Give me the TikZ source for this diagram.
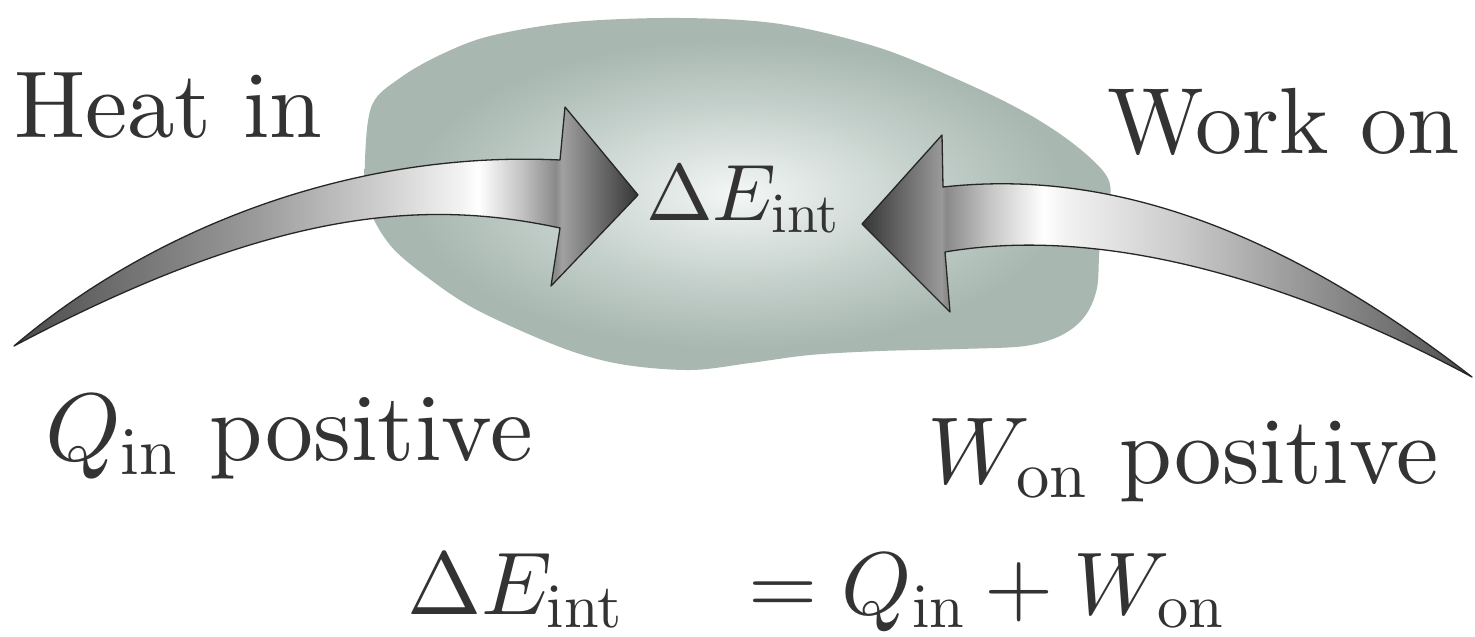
\RequirePackage{fix-cm}
\documentclass[tikz,border=0pt]{standalone}
\DeclareFontShape{TU}{lmr}{m}{n}{<-> \UnicodeFontFile{lmroman10-regular}{\UnicodeFontTeXLigatures}}{}
\DeclareFontShape{OT1}{cmr}{m}{n}{<->cmr10}{}
\DeclareFontShape{OML}{cmm}{m}{it}{<->cmmi10}{}
\definecolor{txt}{HTML}{333333}
\definecolor{bA}{HTML}{F4F7F6}
\definecolor{bB}{HTML}{E0E7E4}
\definecolor{bC}{HTML}{C3CFCA}
\definecolor{bD}{HTML}{A8B7B0}
\pgfdeclareradialshading{blobshade}{\pgfpoint{0bp}{0bp}}{color(0bp)=(bA); color(5bp)=(bB); color(13bp)=(bC); color(22bp)=(bD); color(50bp)=(bD)}
\pgfdeclarehorizontalshading{larrow}{100bp}{rgb(0bp)=(0.29,0.29,0.29); rgb(25bp)=(0.29,0.29,0.29); rgb(33.6bp)=(0.44,0.44,0.44); rgb(44bp)=(0.60,0.60,0.60); rgb(54.4bp)=(0.81,0.81,0.81); rgb(60.8bp)=(0.95,0.95,0.95); rgb(62.2bp)=(1,1,1); rgb(65.6bp)=(0.77,0.77,0.77); rgb(68.4bp)=(0.54,0.54,0.54); rgb(68.9bp)=(0.63,0.63,0.63); rgb(75bp)=(0.21,0.21,0.21); rgb(100bp)=(0.21,0.21,0.21)}
\pgfdeclarehorizontalshading{rarrow}{100bp}{rgb(0bp)=(0.21,0.21,0.21); rgb(25bp)=(0.21,0.21,0.21); rgb(31.5bp)=(0.60,0.60,0.60); rgb(31.9bp)=(0.54,0.54,0.54); rgb(35.4bp)=(0.77,0.77,0.77); rgb(39.9bp)=(1,1,1); rgb(41.6bp)=(0.95,0.95,0.95); rgb(50.9bp)=(0.80,0.80,0.80); rgb(60.7bp)=(0.60,0.60,0.60); rgb(68.9bp)=(0.44,0.44,0.44); rgb(75bp)=(0.29,0.29,0.29); rgb(100bp)=(0.29,0.29,0.29)}
\tikzset{
  lbl/.style={inner sep=0pt, outer sep=0pt, text=txt, anchor=base west},
  arrowbody/.style={draw=black!85, line width=1.3pt, line join=round},
  fs/.style={font=\fontsize{#1}{#1}\selectfont}
}
\begin{document}
\begin{tikzpicture}[x=1pt,y=-1pt]
\fill[white] (0,0) rectangle (1475,637);
\useasboundingbox (0,0) rectangle (1475,637);
% blob
\shade[shading=blobshade] plot[smooth cycle, tension=0.55] coordinates {
 (365,160) (372,105) (400,78) (440,55) (490,36) (574,22) (680,18) (780,24)
 (880,48) (970,85) (1030,115) (1075,145) (1106,175) (1110,200) (1100,245)
 (1097,288) (1085,316) (1062,335) (1025,346) (960,349) (880,351) (810,355)
 (750,363) (690,370) (620,364) (560,347) (477,310) (427,277) (390,245)
 (368,205)};
% named points of the arrows
\coordinate (ltail) at (14,346);
\coordinate (ltip) at (638,195);
\coordinate (rtail) at (1472,377);
\coordinate (rtip) at (862,224);
% left arrow (heat in)
\shadedraw[arrowbody, shading=larrow] (ltail) .. controls (150,230) and (350,150) .. (560,160)
  -- (565,107) -- (ltip) -- (551,286) -- (560,228)
  .. controls (430,200) and (280,205) .. (ltail) -- cycle;
% right arrow (work on)
\shadedraw[arrowbody, shading=rarrow] (rtail) .. controls (1250,205) and (1080,172) .. (943,187)
  -- (942,135) -- (rtip) -- (950,312) -- (945,252)
  .. controls (1120,222) and (1320,295) .. (rtail) -- cycle;
% labels
\node[lbl, fs=95] (heat) at (14,137) {Heat in};
\node[lbl, fs=94] (work) at (1107,153) {Work on};
\node[lbl, fs=80] (dE) at (646,220) {$\Delta E_{\mathrm{int}}$};
\node[lbl, fs=96] (qin) at (45,460) {$Q_{\mathrm{in}}$ positive};
\node[lbl, fs=95] (won) at (927,483) {$W_{\mathrm{on}}$ positive};
\node[lbl, fs=89] (eql) at (407,614) {$\Delta E_{\mathrm{int}}$};
\node[lbl, fs=89] (eqr) at (748,614) {$=Q_{\mathrm{in}}+W_{\mathrm{on}}$};
\end{tikzpicture}
\end{document}
